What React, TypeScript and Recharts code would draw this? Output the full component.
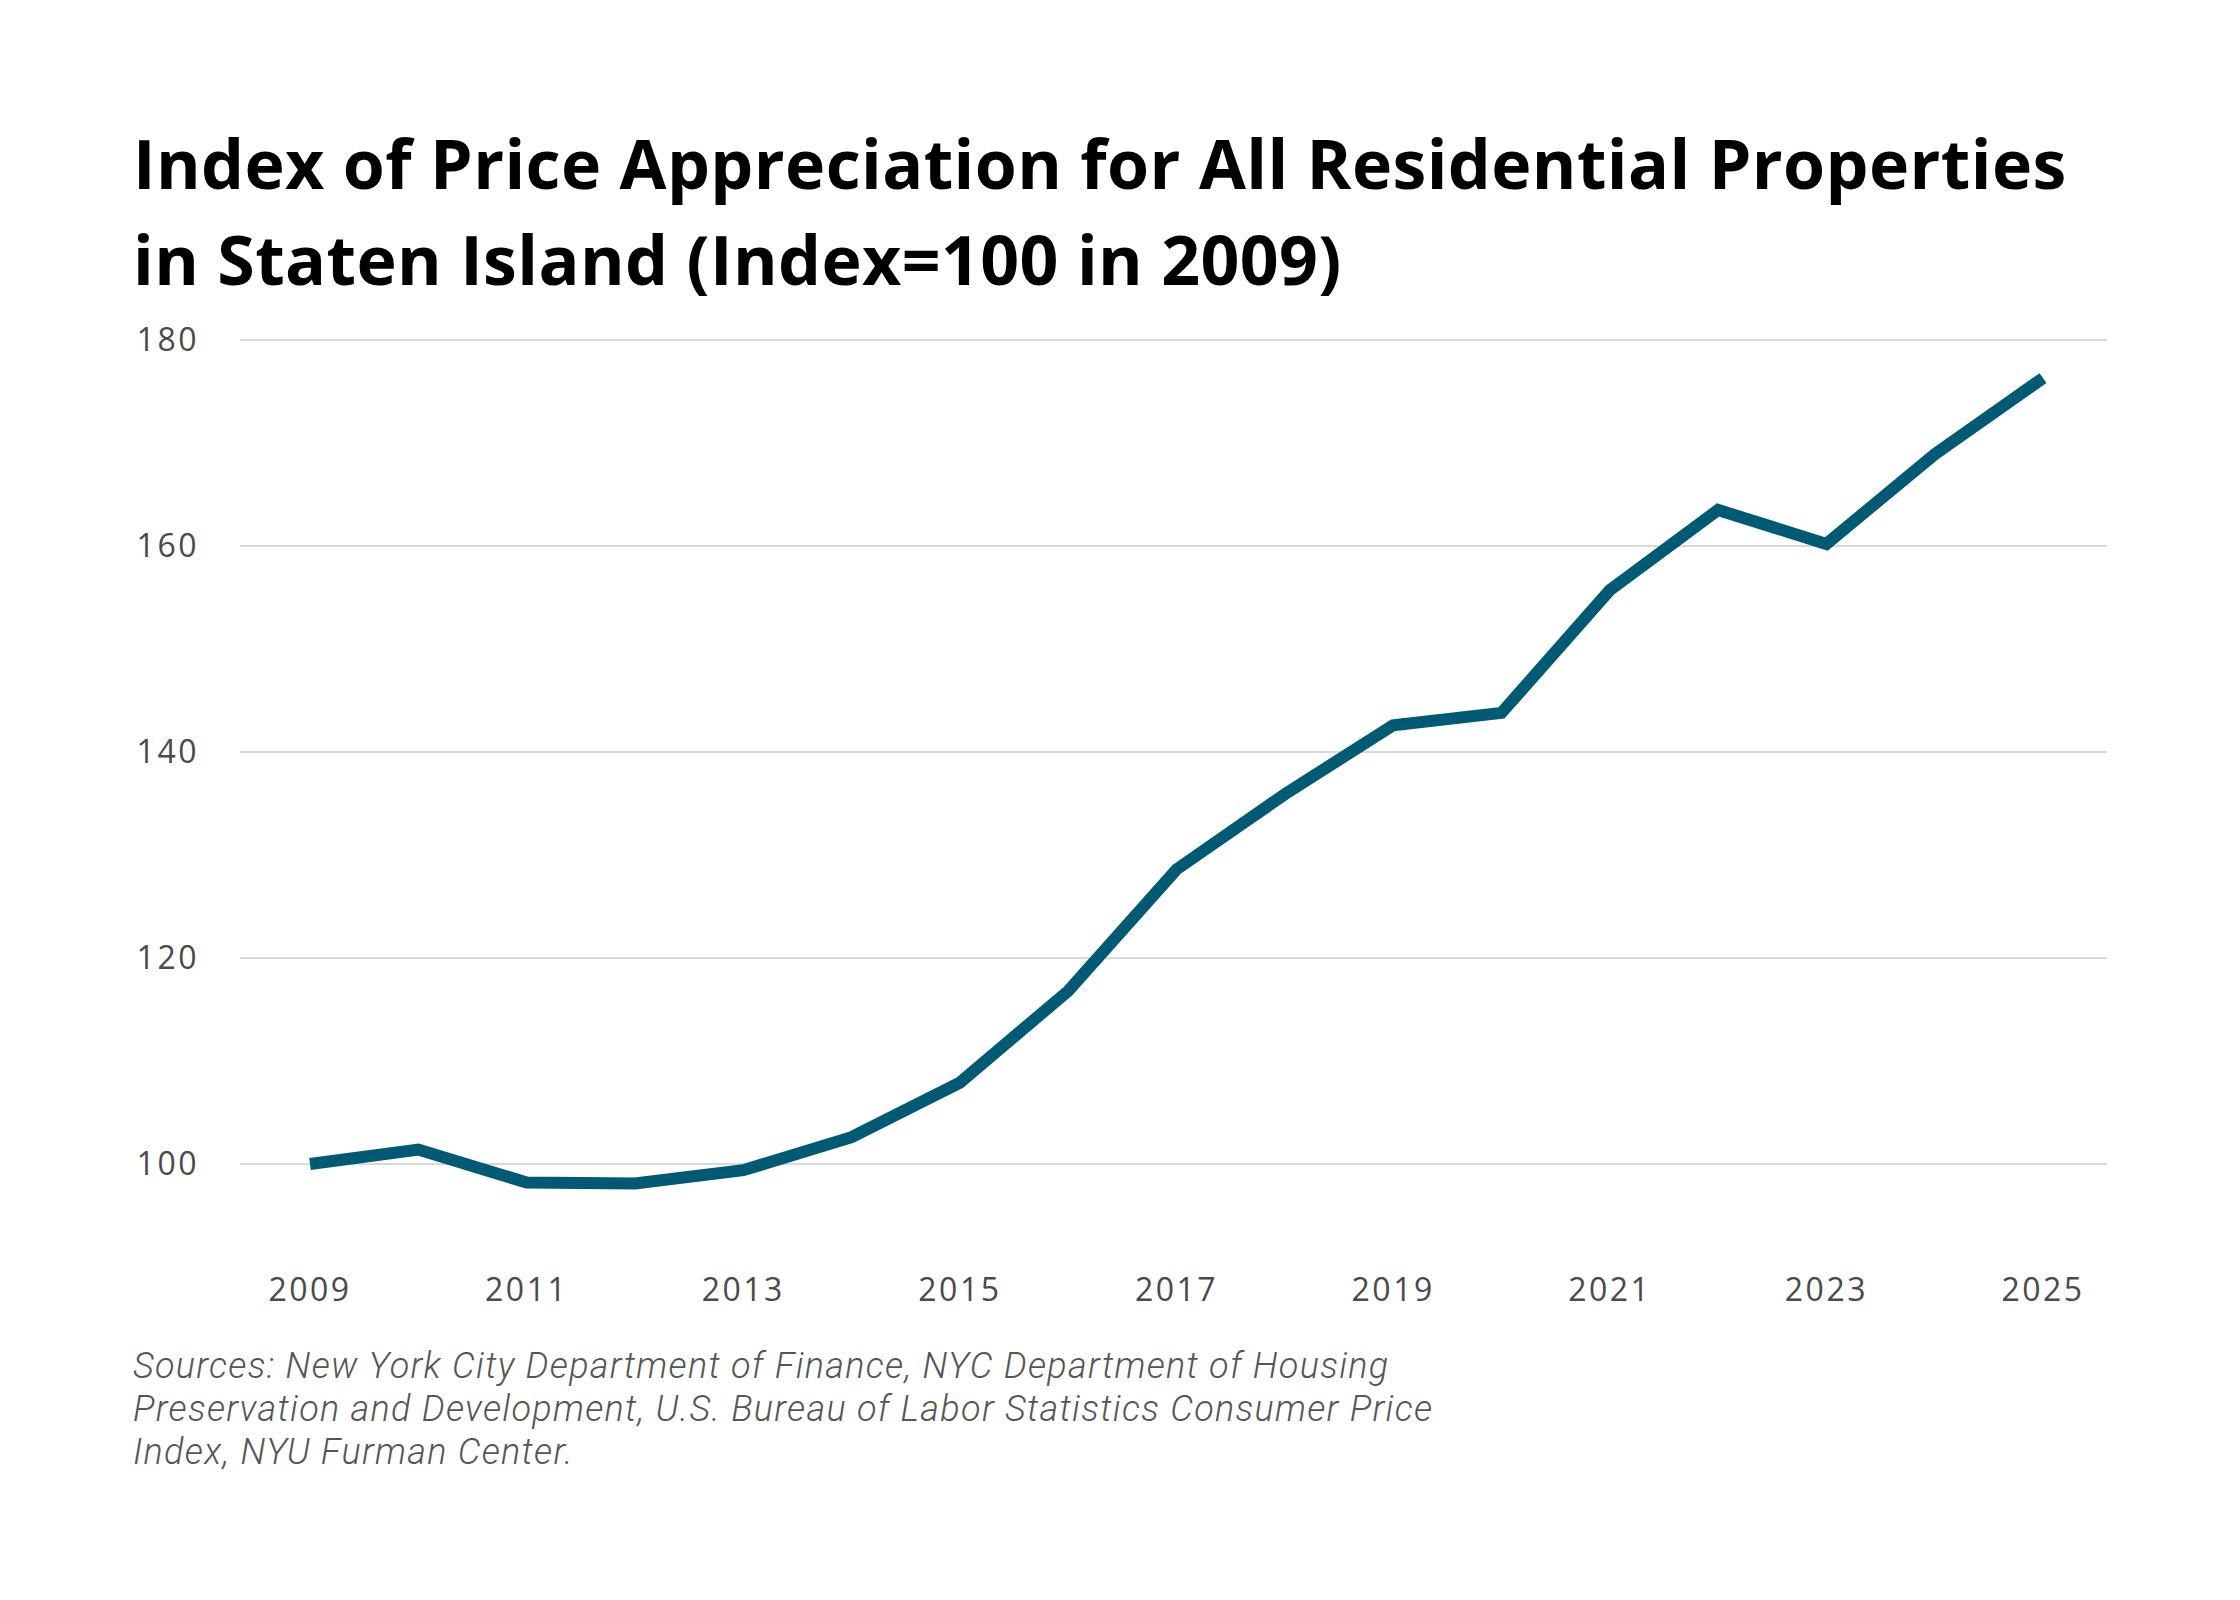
import React from "react";
import { LineChart, Line, XAxis, YAxis, CartesianGrid } from "recharts";

const years = [2009, 2010, 2011, 2012, 2013, 2014, 2015, 2016, 2017, 2018, 2019, 2020, 2021, 2022, 2023, 2024, 2025];
const indexValues = [100, 101.4, 98.2, 98.1, 99.4, 102.6, 107.9, 116.8, 128.6, 135.9, 142.6, 143.8, 155.7, 163.5, 160.2, 168.9, 176.3];
const xTicks = [2009, 2011, 2013, 2015, 2017, 2019, 2021, 2023, 2025];
const yTicks = [100, 120, 140, 160, 180];
const titleLines = [
  "Index of Price Appreciation for All Residential Properties",
  "in Staten Island (Index=100 in 2009)",
];
const sourceLines = [
  "Sources: New York City Department of Finance, NYC Department of Housing",
  "Preservation and Development, U.S. Bureau of Labor Statistics Consumer Price",
  "Index, NYU Furman Center.",
];

const data = years.map((y, i) => ({ year: y, value: indexValues[i] }));

const tickStyle = { fontFamily: "'Open Sans', sans-serif", fontSize: 32, fill: "#4a4a4a", letterSpacing: 2.5 };

export default function App() {
  return (
    <div style={{ position: "absolute", left: 0, top: 0, width: 2240, height: 1600, background: "#fff", overflow: "hidden" }}>
      <div
        style={{
          position: "absolute",
          left: 133,
          top: 115,
          fontFamily: "'Open Sans', sans-serif",
          fontWeight: 700,
          fontSize: 68,
          lineHeight: "96px",
          color: "#000",
          whiteSpace: "nowrap",
          letterSpacing: 0.4,
        }}
      >
        {titleLines.map((t, i) => (
          <div key={i}>{t}</div>
        ))}
      </div>
      <div style={{ position: "absolute", left: 0, top: 0 }}>
        <LineChart width={2240} height={1600} data={data} margin={{ top: 340, right: 133, bottom: 293, left: 0 }}>
          <CartesianGrid vertical={false} horizontalValues={yTicks} stroke="#cccccc" strokeWidth={1.5} />
          <XAxis
            dataKey="year"
            type="number"
            domain={[2009, 2025]}
            ticks={xTicks}
            padding={{ left: 70, right: 64 }}
            height={40}
            axisLine={false}
            tickLine={false}
            tickSize={0}
            tickMargin={11}
            tick={tickStyle}
            interval={0}
          />
          <YAxis
            domain={[90, 180]}
            ticks={yTicks}
            width={240}
            axisLine={false}
            tickLine={false}
            tickSize={0}
            tickMargin={41}
            tick={tickStyle}
          />
          <Line
            type="linear"
            dataKey="value"
            stroke="#005a74"
            strokeWidth={12}
            dot={false}
            activeDot={false}
            isAnimationActive={false}
          />
        </LineChart>
      </div>
      <div
        style={{
          position: "absolute",
          left: 133,
          top: 1345,
          fontFamily: "Roboto, sans-serif",
          fontStyle: "italic",
          fontWeight: 300,
          fontSize: 36,
          lineHeight: "43px",
          color: "#555555",
          whiteSpace: "nowrap",
          letterSpacing: 1.3,
        }}
      >
        {sourceLines.map((t, i) => (
          <div key={i}>{t}</div>
        ))}
      </div>
    </div>
  );
}
